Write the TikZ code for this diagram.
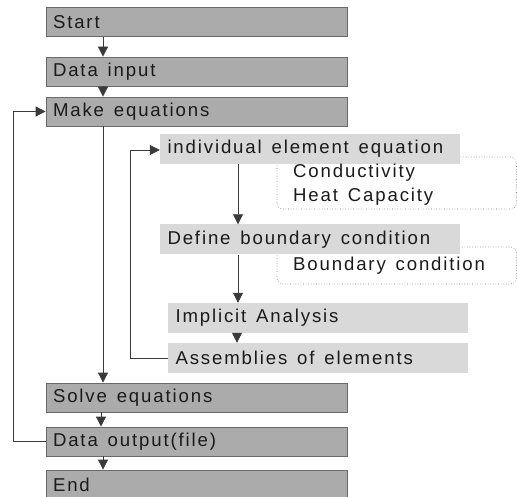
\documentclass[tikz,border=0pt]{standalone}
\usepackage{fontspec}
\setmainfont{Liberation Sans}[LetterSpace=10,WordSpace=1.4]
\usetikzlibrary{arrows.meta}
\definecolor{darkbox}{HTML}{ABABAB}
\definecolor{darkedge}{HTML}{6A6A6A}
\definecolor{lightbox}{HTML}{D9D9D9}
\definecolor{txt}{HTML}{1A1A1A}
\definecolor{lin}{HTML}{3A3A3A}
\newcommand\obtext[1]{\makebox[287pt][l]{#1}}
\newcommand\ibtext[1]{\makebox[285pt][l]{#1}}
\tikzset{
  outerbox/.style={draw=darkedge, line width=0.8pt, fill=darkbox, minimum width=301pt, minimum height=29pt, inner xsep=7pt, inner ysep=0pt, text=txt, font=\fontsize{18.6}{20}\selectfont},
  innerbox/.style={fill=lightbox, minimum width=300pt, minimum height=30pt, inner xsep=7.5pt, inner ysep=0pt, text=txt, font=\fontsize{18.6}{20}\selectfont},
  notebox/.style={draw=gray, dotted, line width=0.6pt, rounded corners=6pt},
  notetext/.style={anchor=west, inner sep=0pt, text=txt, font=\fontsize{18.6}{20}\selectfont},
  arr/.style={draw=lin, line width=0.8pt, -{Triangle[width=10pt,length=10pt]}},
  ln/.style={draw=lin, line width=0.8pt}
}
\begin{document}
\begin{tikzpicture}[x=1pt,y=-1pt]
\useasboundingbox (0,0) rectangle (517,497);
% dotted note boxes (behind)
\draw[notebox] (277,157) rectangle (516.5,209);
\draw[notebox] (277,247) rectangle (516.5,284);
% outer boxes
\node[outerbox] (start) at (196.5,22) {\obtext{Start}};
\node[outerbox] (input) at (196.5,71.5) {\obtext{Data input}};
\node[outerbox] (make) at (196.5,111.5) {\obtext{Make equations}};
\node[outerbox] (solve) at (196.5,397.5) {\obtext{Solve equations}};
\node[outerbox] (output) at (196.5,441.5) {\obtext{Data output(file)}};
\node[outerbox] (end) at (196.5,484.5) {\obtext{End}};
% inner boxes
\node[innerbox] (indiv) at (310,149) {\ibtext{individual element equation}};
\node[innerbox] (define) at (310,239.5) {\ibtext{Define boundary condition}};
\node[innerbox] (implicit) at (318,318) {\ibtext{Implicit Analysis}};
\node[innerbox] (assem) at (318,358) {\ibtext{Assemblies of elements}};
% note texts
\node[notetext] (cond) at (293,173) {Conductivity};
\node[notetext] (heat) at (293,197) {Heat Capacity};
\node[notetext] (bc) at (293,265.5) {Boundary condition};
% connectors
\draw[arr] (start.south -| 103,0) -- (input.north -| 103,0);
\draw[arr] (input.south -| 103,0) -- (make.north -| 103,0);
\draw[arr] (make.south -| 103,0) -- (solve.north -| 103,0);
\draw[arr] (solve.south -| 101,0) -- (output.north -| 101,0);
\draw[arr] (output.south -| 103,0) -- (end.north -| 103,0);
\draw[arr] (indiv.south -| 238,0) -- (define.north -| 238,0);
\draw[arr] (define.south -| 238,0) -- (implicit.north -| 238,0);
\draw[arr] (implicit.south -| 237,0) -- (assem.north -| 237,0);
\coordinate (lo1) at (13,441.5);
\coordinate (lo2) at (13,111.5);
\draw[arr] (output.west) -- (lo1) -- (lo2) -- (make.west);
\coordinate (li1) at (130,358);
\coordinate (li2) at (130,150);
\draw[arr] (assem.west) -- (li1) -- (li2) -- (indiv.west |- li2);
\end{tikzpicture}
\end{document}
